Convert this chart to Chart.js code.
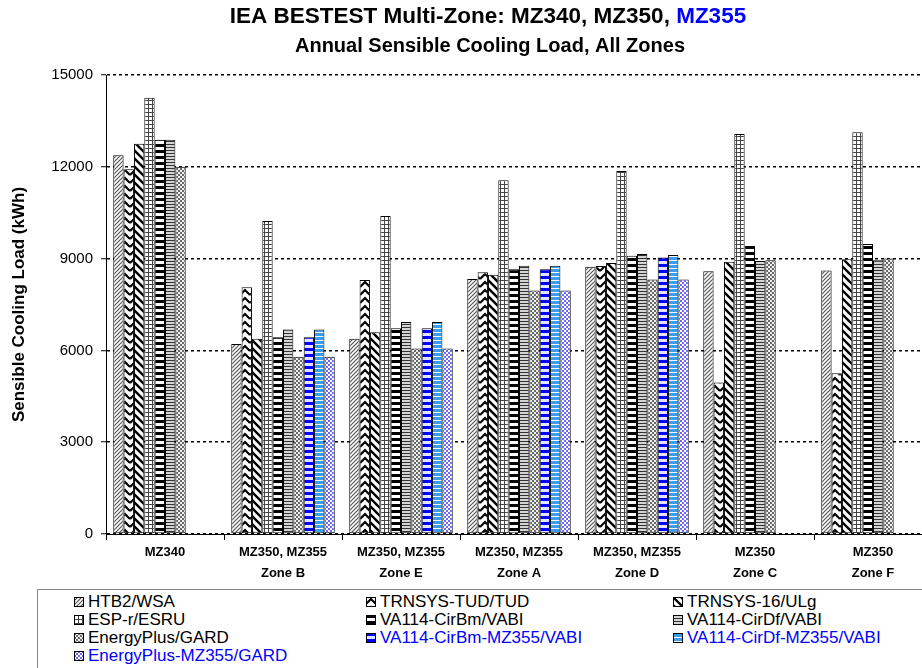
<!DOCTYPE html>
<html lang="en">
<head>
  <meta charset="UTF-8">
  <title>IEA BESTEST Multi-Zone Cooling Load</title>
  <script src="https://cdn.jsdelivr.net/npm/chart.js"></script>
  <style>
    body { margin: 0; background: #fff; overflow: hidden; font-family: "Liberation Sans", Arial, sans-serif; }
    #wrap { position: relative; width: 922px; height: 668px; overflow: hidden; }
    #chart { position: absolute; left: 0; top: 0; }
    #legend { position: absolute; left: 37px; top: 589px; width: 900px; height: 100px;
              border-top: 1px solid #888; border-left: 1px solid #888; }
    .item { position: absolute; font-size: 17px; line-height: 18px; white-space: nowrap; }
    .item canvas { position: absolute; left: 0; top: 4px; }
    .item span { position: absolute; left: 14px; top: 0; }
  </style>
</head>
<body>
  <div id="wrap">
    <canvas id="chart" width="932" height="589"></canvas>
    <div id="legend"></div>
  </div>

  <script>
    const categories = [
      ['MZ340'],
      ['MZ350, MZ355', 'Zone B'],
      ['MZ350, MZ355', 'Zone E'],
      ['MZ350, MZ355', 'Zone A'],
      ['MZ350, MZ355', 'Zone D'],
      ['MZ350', 'Zone C'],
      ['MZ350', 'Zone F']
    ];

    const seriesNames = [
      'HTB2/WSA', 'TRNSYS-TUD/TUD', 'TRNSYS-16/ULg',
      'ESP-r/ESRU', 'VA114-CirBm/VABI', 'VA114-CirDf/VABI',
      'EnergyPlus/GARD', 'VA114-CirBm-MZ355/VABI', 'VA114-CirDf-MZ355/VABI',
      'EnergyPlus-MZ355/GARD'
    ];

    const htb2       = [12380, 6210, 6380, 8330, 8730, 8590, 8610];
    const trnsysTud  = [11920, 8060, 8300, 8550, 8760, 4950, 5250];
    const trnsys16   = [12750, 6380, 6590, 8470, 8860, 8900, 8980];
    const espr       = [14260, 10230, 10390, 11560, 11860, 13070, 13130];
    const cirBm      = [12880, 6430, 6720, 8650, 9090, 9410, 9480];
    const cirDf      = [12880, 6680, 6930, 8770, 9150, 8920, 8950];
    const energyPlus = [12000, 5790, 6060, 7960, 8320, 8950, 9000];
    const cirBm355   = [null, 6430, 6720, 8650, 9040, null, null];
    const cirDf355   = [null, 6680, 6930, 8770, 9120, null, null];
    const eplus355   = [null, 5790, 6060, 7960, 8320, null, null];

    const seriesData = [htb2, trnsysTud, trnsys16, espr, cirBm, cirDf, energyPlus, cirBm355, cirDf355, eplus355];
    const blueSeries = [7, 8, 9];

    const yTicks = [0, 3000, 6000, 9000, 12000, 15000];

    // tile patterns, one per series
    function tile(w, h, draw) {
      const c = document.createElement('canvas');
      c.width = w; c.height = h;
      const g = c.getContext('2d');
      draw(g, w, h);
      return c;
    }

    const tiles = [
      tile(4, 4, (g) => { g.fillStyle = '#fff'; g.fillRect(0, 0, 4, 4);
        g.strokeStyle = '#555'; g.lineWidth = 1.2;
        g.beginPath(); g.moveTo(-1, 5); g.lineTo(5, -1); g.moveTo(3, 5); g.lineTo(5, 3); g.moveTo(-1, 1); g.lineTo(1, -1); g.stroke(); }),
      tile(10, 8, (g) => { g.fillStyle = '#fff'; g.fillRect(0, 0, 10, 8);
        g.strokeStyle = '#000'; g.lineWidth = 2.2;
        for (let o = -8; o <= 8; o += 8) { g.beginPath(); g.moveTo(0, 7 + o); g.lineTo(5, 2 + o); g.lineTo(10, 7 + o); g.stroke(); } }),
      tile(8, 8, (g) => { g.fillStyle = '#fff'; g.fillRect(0, 0, 8, 8);
        g.strokeStyle = '#000'; g.lineWidth = 2.4;
        g.beginPath(); g.moveTo(-1, -1); g.lineTo(9, 9); g.moveTo(-1, 7); g.lineTo(1, 9); g.moveTo(7, -1); g.lineTo(9, 1); g.stroke(); }),
      tile(4, 4, (g) => { g.fillStyle = '#fff'; g.fillRect(0, 0, 4, 4);
        g.fillStyle = '#444'; g.fillRect(0, 0, 4, 1); g.fillRect(0, 0, 1, 4); }),
      tile(1, 6, (g) => { g.fillStyle = '#fff'; g.fillRect(0, 0, 1, 6);
        g.fillStyle = '#000'; g.fillRect(0, 0, 1, 3); }),
      tile(1, 3, (g) => { g.fillStyle = '#d4d4d4'; g.fillRect(0, 0, 1, 3);
        g.fillStyle = '#333'; g.fillRect(0, 0, 1, 1); }),
      tile(4, 4, (g) => { g.fillStyle = '#eee'; g.fillRect(0, 0, 4, 4);
        g.fillStyle = '#6a6a6a'; g.fillRect(0, 0, 2, 2); g.fillRect(2, 2, 2, 2); }),
      tile(1, 6, (g) => { g.fillStyle = '#dfe3ff'; g.fillRect(0, 0, 1, 6);
        g.fillStyle = '#0000ff'; g.fillRect(0, 0, 1, 3); }),
      tile(1, 4, (g) => { g.fillStyle = '#3b9cf0'; g.fillRect(0, 0, 1, 4);
        g.fillStyle = '#ffffff'; g.fillRect(0, 0, 1, 1); }),
      tile(4, 4, (g) => { g.fillStyle = '#fff'; g.fillRect(0, 0, 4, 4);
        g.fillStyle = '#6b6bff'; g.fillRect(0, 0, 2, 2); g.fillRect(2, 2, 2, 2); })
    ];

    const mainCtx = document.getElementById('chart').getContext('2d');
    const patterns = tiles.map(t => mainCtx.createPattern(t, 'repeat'));

    // two-line title with blue MZ355
    const titlePlugin = {
      id: 'twoLineTitle',
      afterDraw(chart) {
        const ctx = chart.ctx;
        ctx.save();
        ctx.textBaseline = 'middle';
        ctx.textAlign = 'left';
        ctx.font = 'bold 22.5px "Liberation Sans", Arial, sans-serif';
        const a = 'IEA BESTEST Multi-Zone: MZ340, MZ350, ';
        const b = 'MZ355';
        const wa = ctx.measureText(a).width, wb = ctx.measureText(b).width;
        const x = 488 - (wa + wb) / 2;
        ctx.fillStyle = '#000';
        ctx.fillText(a, x, 17);
        ctx.fillStyle = '#0000ff';
        ctx.fillText(b, x + wa, 17);
        ctx.font = 'bold 20px "Liberation Sans", Arial, sans-serif';
        ctx.fillStyle = '#000';
        ctx.textAlign = 'center';
        ctx.fillText('Annual Sensible Cooling Load, All Zones', 490, 46);
        ctx.restore();
      }
    };

    new Chart(mainCtx, {
      type: 'bar',
      data: {
        labels: categories,
        datasets: seriesData.map((d, i) => ({
          label: seriesNames[i],
          data: d,
          backgroundColor: patterns[i],
          borderColor: '#000',
          borderWidth: 1,
          borderSkipped: false,
          categoryPercentage: 0.877,
          barPercentage: 1.0
        }))
      },
      options: {
        responsive: false,
        animation: false,
        layout: { padding: { top: 75, left: 0, right: 0, bottom: 0 } },
        plugins: {
          legend: { display: false },
          title: { display: false },
          tooltip: { enabled: false }
        },
        scales: {
          x: {
            grid: { display: true, drawOnChartArea: false, tickLength: 6, color: '#000', lineWidth: 1 },
            border: { display: true, color: '#000', width: 1 },
            ticks: {
              color: '#000', padding: 2, maxRotation: 0, autoSkip: false,
              font: { family: '"Liberation Sans Narrow", "Liberation Sans", Arial', weight: 'bold', size: 13, lineHeight: 1.6 }
            },
            afterFit(s) { s.height = 55; }
          },
          y: {
            min: 0, max: 15000,
            afterBuildTicks(s) { s.ticks = yTicks.map(v => ({ value: v })); },
            ticks: { color: '#000', padding: 8, font: { size: 15 }, callback: (v) => String(v) },
            grid: { color: '#000', lineWidth: 1.5, tickLength: 5, tickWidth: 1 },
            border: { display: true, color: '#000', width: 1, dash: [3, 3] },
            title: {
              display: true, text: 'Sensible Cooling Load (kWh)', color: '#000',
              font: { weight: 'bold', size: 17 }, padding: { top: 9, bottom: 0 }
            },
            afterFit(s) { s.width = 106; }
          }
        }
      },
      plugins: [titlePlugin]
    });

    // legend, three columns filled row by row
    const legend = document.getElementById('legend');
    const colX = [36, 328, 635];
    const rowY = [3, 21, 39, 57];
    seriesNames.forEach((name, i) => {
      const item = document.createElement('div');
      item.className = 'item';
      item.style.left = colX[i % 3] + 'px';
      item.style.top = rowY[Math.floor(i / 3)] + 'px';
      const ic = document.createElement('canvas');
      ic.width = 10; ic.height = 10;
      const g = ic.getContext('2d');
      g.fillStyle = g.createPattern(tiles[i], 'repeat');
      g.fillRect(0, 0, 10, 10);
      g.strokeStyle = '#000'; g.lineWidth = 1;
      g.strokeRect(0.5, 0.5, 9, 9);
      const t = document.createElement('span');
      t.textContent = name;
      t.style.color = blueSeries.includes(i) ? '#0000ff' : '#000';
      item.appendChild(ic);
      item.appendChild(t);
      legend.appendChild(item);
    });
  </script>
</body>
</html>
